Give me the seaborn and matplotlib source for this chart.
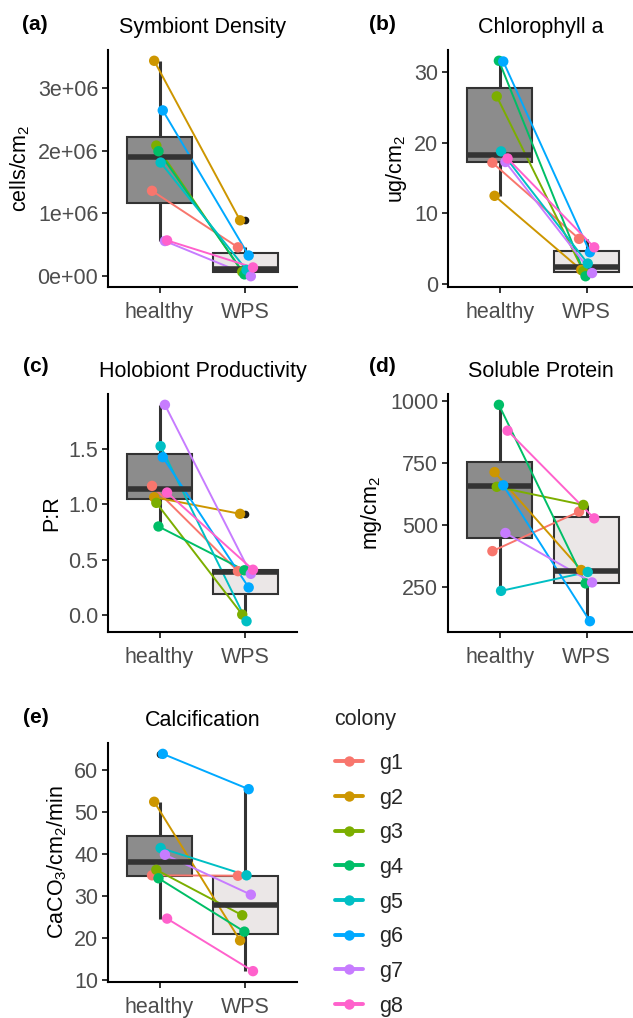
import numpy as np
import pandas as pd
import matplotlib
matplotlib.use("Agg")
import matplotlib.pyplot as plt
import seaborn as sns
from matplotlib.lines import Line2D
from matplotlib.ticker import FuncFormatter

# ---------------- data ----------------
colonies = ["g1", "g2", "g3", "g4", "g5", "g6", "g7", "g8"]
conditions = ["healthy", "WPS"]
colony_colors = ["#F8766D", "#CD9600", "#7CAE00", "#00BE67",
                 "#00BFC4", "#00A9FF", "#C77CFF", "#FF61CC"]

# (a) Symbiont density, cells/cm2
sym_healthy = [1.36e6, 3.43e6, 2.08e6, 1.99e6, 1.81e6, 2.64e6, 0.56e6, 0.57e6]
sym_wps = [0.46e6, 0.89e6, 0.07e6, 0.03e6, 0.10e6, 0.33e6, 0.00e6, 0.14e6]
sym_ticks = [0, 1e6, 2e6, 3e6]

# (b) Chlorophyll a, ug/cm2
chl_healthy = [17.2, 12.5, 26.6, 31.65, 18.8, 31.55, 17.3, 17.8]
chl_wps = [6.4, 2.0, 1.8, 1.1, 2.9, 4.5, 1.55, 5.2]
chl_ticks = [0, 10, 20, 30]

# (c) Holobiont productivity, P:R
pr_healthy = [1.166, 1.064, 1.013, 0.80, 1.524, 1.425, 1.897, 1.106]
pr_wps = [0.397, 0.914, 0.006, 0.405, -0.054, 0.25, 0.373, 0.41]
pr_ticks = [0.0, 0.5, 1.0, 1.5]

# (d) Soluble protein, mg/cm2
prot_healthy = [395, 713, 654, 984, 235, 660, 468, 880]
prot_wps = [554, 319, 581, 265, 311, 113, 269, 527]
prot_ticks = [250, 500, 750, 1000]

# (e) Calcification, CaCO3/cm2/min
calc_healthy = [35.0, 52.5, 36.3, 34.3, 41.5, 63.9, 39.9, 24.7]
calc_wps = [34.9, 19.5, 25.5, 21.6, 35.0, 55.5, 30.4, 12.2]
calc_ticks = [10, 20, 30, 40, 50, 60]

# ---------------- style ----------------
sns.set_theme(style="ticks")
FONT = "Liberation Sans"
plt.rcParams["font.family"] = [FONT, "DejaVu Sans"]
plt.rcParams["mathtext.fontset"] = "custom"
plt.rcParams["mathtext.rm"] = FONT
plt.rcParams["mathtext.it"] = FONT
plt.rcParams["mathtext.default"] = "regular"

FS = 15.5
TICK_COLOR = "#4D4D4D"
BOX_FILL = {"healthy": "#8C8C8C", "WPS": "#EBE7E7"}
DODGE = 0.2

W, H = 633, 1018
fig = plt.figure(figsize=(W / 100, H / 100), dpi=100)


def px_axes(left, top, right, bottom):
    return fig.add_axes([left / W, 1 - bottom / H, (right - left) / W, (bottom - top) / H])


def panel(ax, healthy, wps, title, ylabel, ticks, fmt, xmax=1.6):
    df = pd.DataFrame({
        "condition": ["healthy"] * len(healthy) + ["WPS"] * len(wps),
        "value": list(healthy) + list(wps),
        "colony": colonies + colonies,
    })
    offs = {c: (i - (len(colonies) - 1) / 2) * DODGE / len(colonies)
            for i, c in enumerate(colonies)}
    df["xpos"] = [conditions.index(c) + offs[g] for c, g in zip(df["condition"], df["colony"])]

    sns.boxplot(data=df, x="condition", y="value", hue="condition", order=conditions,
                hue_order=conditions, palette=BOX_FILL, saturation=1, dodge=False,
                width=0.75, linecolor="#333333", linewidth=1.5, showcaps=False,
                whiskerprops=dict(linewidth=2.2),
                medianprops=dict(linewidth=4, color="#333333"),
                flierprops=dict(marker="o", markersize=4.5, markerfacecolor="#1a1a1a",
                                markeredgecolor="#1a1a1a"),
                legend=False, ax=ax)
    pal = dict(zip(colonies, colony_colors))
    sns.lineplot(data=df, x="xpos", y="value", hue="colony", hue_order=colonies,
                 palette=pal, estimator=None, sort=False, linewidth=1.4,
                 legend=False, ax=ax)
    sns.scatterplot(data=df, x="xpos", y="value", hue="colony", hue_order=colonies,
                    palette=pal, s=56, linewidth=0, legend=False, ax=ax, zorder=5)

    lo, hi = df["value"].min(), df["value"].max()
    pad = (hi - lo) * 0.05
    ax.set_ylim(lo - pad, hi + pad)
    ax.set_xlim(-0.6, xmax)
    ax.set_xticks([0, 1])
    ax.set_xticklabels(conditions)
    ax.set_yticks(ticks)
    ax.yaxis.set_major_formatter(FuncFormatter(fmt))
    ax.set_xlabel("")
    ax.set_ylabel(ylabel, fontsize=FS, color="black", labelpad=4)
    ax.set_title(title, fontsize=FS, color="black", pad=12)
    ax.tick_params(axis="both", labelsize=FS, labelcolor=TICK_COLOR, color="#333333",
                   length=4.5, width=1.4)
    ax.tick_params(axis="x", pad=6)
    ax.tick_params(axis="y", pad=2.5)
    for s in ["top", "right"]:
        ax.spines[s].set_visible(False)
    for s in ["left", "bottom"]:
        ax.spines[s].set_color("black")
        ax.spines[s].set_linewidth(1.5)
    ax.grid(False)
    ax.set_facecolor("white")


ax_a = px_axes(108, 50, 297, 287)
panel(ax_a, sym_healthy, sym_wps, "Symbiont Density", "cells/cm$_2$", sym_ticks,
      lambda v, p: f"{v:.0e}")
ax_b = px_axes(448, 50, 633, 287)
panel(ax_b, chl_healthy, chl_wps, "Chlorophyll a", "ug/cm$_2$", chl_ticks,
      lambda v, p: f"{v:.0f}", xmax=1.535)
ax_c = px_axes(108, 394, 297, 632)
panel(ax_c, pr_healthy, pr_wps, "Holobiont Productivity", "P:R", pr_ticks,
      lambda v, p: f"{v:.1f}")
ax_d = px_axes(448, 394, 633, 632)
panel(ax_d, prot_healthy, prot_wps, "Soluble Protein", "mg/cm$_2$", prot_ticks,
      lambda v, p: f"{v:.0f}", xmax=1.535)
ax_e = px_axes(108, 743, 297, 982)
panel(ax_e, calc_healthy, calc_wps, "Calcification", "CaCO$_3$/cm$_2$/min", calc_ticks,
      lambda v, p: f"{v:.0f}")

# panel tags
for tag, x, y in [("(a)", 22, 30), ("(b)", 369, 30), ("(c)", 23, 372),
                  ("(d)", 369, 372), ("(e)", 23, 723)]:
    fig.text(x / W, 1 - y / H, tag, fontsize=FS - 0.5, fontweight="bold",
             ha="left", va="baseline", color="black")

# legend
handles = [Line2D([], [], color=c, marker="o", linewidth=2.8, markersize=7.5,
                  markeredgewidth=0) for c in colony_colors]
LS = 0.635
leg = fig.legend(handles, colonies, title="colony", loc="upper left",
                 bbox_to_anchor=(326 / W, 1 - 700 / H), frameon=False,
                 fontsize=FS, title_fontsize=FS, handlelength=1.3,
                 handletextpad=0.75, labelspacing=LS, alignment="left",
                 borderaxespad=0)
box = getattr(leg, "_legend_box", None)
if box is not None and hasattr(box, "sep"):
    box.sep = LS * FS + 7

fig.savefig("out.png", dpi=100, facecolor="white")
